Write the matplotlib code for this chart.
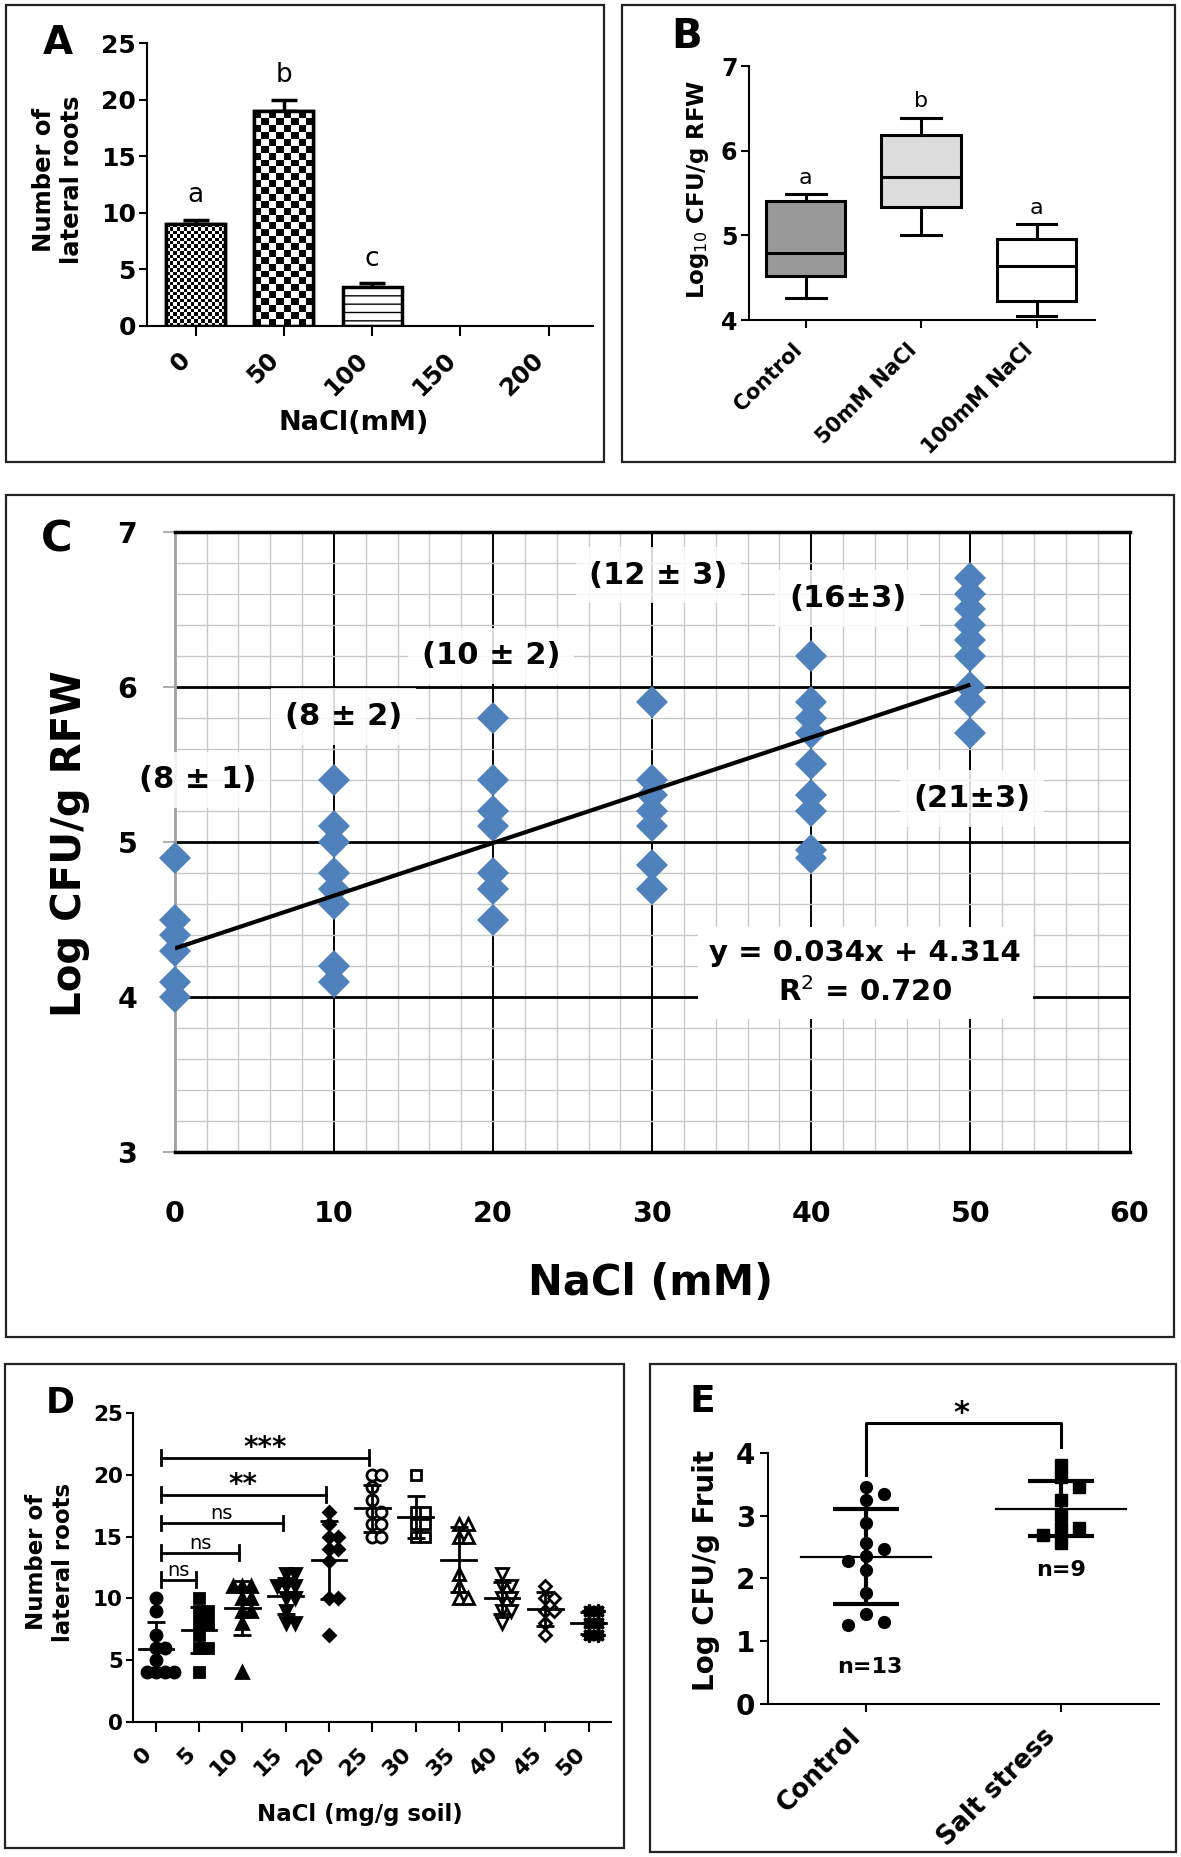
"""
Salt stress figure: lateral roots, root colonisation and fruit CFU (panels A-E).
Rebuilt with matplotlib, values read off the published figure.
"""
import numpy as np
import matplotlib
matplotlib.use("Agg")
import matplotlib.pyplot as plt
from matplotlib.patches import Rectangle

W, H, DPI = 1181, 1857, 100

# --- A: lateral roots vs NaCl (mM), mean + SEM -------------------------------
a_conc = ["0", "50", "100", "150", "200"]
a_roots = [9.0, 19.0, 3.4]          # only 0/50/100 mM have bars
a_err = [0.4, 1.0, 0.35]
a_letters = ["a", "b", "c"]

# --- B: log10 CFU/g RFW box plots --------------------------------------------
b_groups = ["Control", "50mM NaCl", "100mM NaCl"]
b_lo = [4.26, 5.00, 4.05]
b_q1 = [4.52, 5.34, 4.23]
b_med = [4.79, 5.69, 4.64]
b_q3 = [5.40, 6.19, 4.96]
b_hi = [5.49, 6.39, 5.13]
b_letters = ["a", "b", "a"]

# --- C: colonisation vs NaCl with linear fit ---------------------------------
c_nacl = [0, 10, 20, 30, 40, 50]
c_cfu = [
    [4.9, 4.5, 4.4, 4.3, 4.1, 4.0],
    [5.4, 5.1, 5.0, 4.8, 4.7, 4.6, 4.2, 4.1],
    [5.8, 5.4, 5.2, 5.1, 4.8, 4.7, 4.5],
    [5.9, 5.4, 5.3, 5.2, 5.1, 4.85, 4.7],
    [6.2, 5.9, 5.8, 5.7, 5.5, 5.3, 5.2, 4.95, 4.9],
    [6.7, 6.6, 6.5, 6.4, 6.3, 6.2, 6.0, 5.9, 5.7],
]
c_roots_txt = ["(8 ± 1)", "(8 ± 2)", "(10 ± 2)", "(12 ± 3)", "(16±3)", "(21±3)"]
c_slope, c_icpt, c_r2 = 0.034, 4.314, 0.720

# --- D: lateral roots vs NaCl (mg/g soil), scatter + mean/SD -----------------
d_nacl = ["0", "5", "10", "15", "20", "25", "30", "35", "40", "45", "50"]
d_roots = [
    [10, 9, 7, 6, 6, 5, 4, 4, 4, 4],
    [10, 9, 9, 8, 8, 7, 6, 6, 4],
    [11, 11, 11, 10, 10, 9, 9, 8, 4],
    [12, 12, 11, 11, 11, 10, 10, 9, 8, 8],
    [17, 16, 15, 15, 14, 14, 13, 10, 10, 7],
    [20, 20, 19, 18, 17, 17, 16, 16, 15, 15],
    [20, 17, 17, 16, 16, 15, 15],
    [16, 16, 15, 15, 12, 11, 10, 10],
    [12, 11, 11, 10, 10, 9, 9, 8],
    [11, 10, 10, 9, 9, 8, 7],
    [9, 9, 8, 8, 7, 7],
]
d_sig = [(1, "ns"), (2, "ns"), (3, "ns"), (4, "**"), (5, "***")]
d_sig_y = [11.5, 13.7, 16.1, 18.4, 21.4]

# --- E: fruit colonisation ---------------------------------------------------
e_groups = ["Control", "Salt stress"]
e_control = [3.46, 3.35, 3.25, 2.88, 2.56, 2.46, 2.36, 2.27, 2.14, 1.76, 1.44, 1.31, 1.25]
e_salt = [3.81, 3.61, 3.46, 3.25, 3.01, 2.80, 2.80, 2.69, 2.57]

plt.rcParams["font.family"] = ["DejaVu Sans"]
plt.rcParams["axes.linewidth"] = 1.5
plt.rcParams["hatch.linewidth"] = 1.0

fig = plt.figure(figsize=(W / DPI, H / DPI), dpi=DPI)


def frac_rect(l, t, r, b):
    return [l / W, 1 - b / H, (r - l) / W, (b - t) / H]


def ftext(x, y, s, **kw):
    kw.setdefault("ha", "center")
    kw.setdefault("va", "center")
    return fig.text(x / W, 1 - y / H, s, **kw)


def panel_box(l, t, r, b):
    fig.add_artist(Rectangle((l / W, 1 - b / H), (r - l) / W, (b - t) / H,
                             transform=fig.transFigure, fill=False, ec="#222222", lw=1.6))


def prism(ax):
    for s in ("top", "right"):
        ax.spines[s].set_visible(False)
    ax.tick_params(width=1.5, direction="out")


def swarm(ax, xc, vals, step_px, min_px):
    """deterministic beeswarm offsets (pixels -> data)"""
    t = ax.transData
    ppx = t.transform((1, 0))[0] - t.transform((0, 0))[0]
    ppy = t.transform((0, 1))[1] - t.transform((0, 0))[1]
    placed, xs = [], []
    for v in vals:
        k = 0
        while True:
            cand = ((k + 1) // 2) * (1 if k % 2 else -1) * step_px
            if all(np.hypot(cand - px, (v - pv) * ppy) >= min_px for px, pv in placed):
                break
            k += 1
        placed.append((cand, v))
        xs.append(xc + cand / ppx)
    return xs


# ============================== A ==============================
axA = fig.add_axes(frac_rect(147, 43.3, 593.4, 325.7))
prism(axA)
axA.set_xlim(-0.552, 4.509)
axA.set_ylim(0, 25)
xa = np.arange(len(a_roots))
axA.errorbar(xa, a_roots, yerr=[np.zeros(len(a_err)), a_err], fmt="none", ecolor="black",
             elinewidth=2.5, capsize=9.5, capthick=2.5, zorder=1)
bars = axA.bar(xa, a_roots, width=0.67, color="white", edgecolor="black", lw=2.5, zorder=2)
bars[2].set_hatch("--")
for idx, cell in ((0, 3.4), (1, 7.0)):
    p = bars[idx]
    x0, w, h = p.get_x(), p.get_width(), p.get_height()
    p0 = axA.transData.transform((x0, 0))
    p1 = axA.transData.transform((x0 + w, h))
    nx = max(1, int(round((p1[0] - p0[0]) / cell)))
    ny = max(1, int(round((p1[1] - p0[1]) / cell)))
    tex = np.indices((ny, nx)).sum(axis=0) % 2
    im = axA.imshow(tex, extent=(x0, x0 + w, 0, h), cmap="gray", vmin=0, vmax=1,
                    interpolation="nearest", aspect="auto", zorder=2.1)
    im.set_clip_path(p)
    axA.add_patch(Rectangle((x0, 0), w, h, fill=False, ec="black", lw=2.5, zorder=2.2))
axA.set_xlim(-0.552, 4.509)
axA.set_ylim(0, 25)
for i, (v, e, l) in enumerate(zip(a_roots, a_err, a_letters)):
    axA.text(i, v + e + 1.0, l, ha="center", va="bottom", fontsize=19)
axA.set_yticks(range(0, 26, 5), [str(v) for v in range(0, 26, 5)], fontsize=18, fontweight="bold")
axA.set_xticks(range(len(a_conc)), a_conc, rotation=45, ha="right", fontsize=17.5, fontweight="bold")
axA.tick_params(axis="y", length=6, pad=2)
axA.tick_params(axis="x", length=7, pad=9)
ftext(58, 180, "Number of\nlateral roots", rotation=90, fontsize=17.5, fontweight="bold", linespacing=1.2)
ftext(354, 423, "NaCl(mM)", fontsize=19.5, fontweight="bold")
ftext(58, 43, "A", fontsize=28, fontweight="bold")
panel_box(6, 5, 604, 462)

# ============================== B ==============================
axB = fig.add_axes(frac_rect(748.6, 66, 1095, 320))
prism(axB)
stats = [dict(med=m, q1=q1, q3=q3, whislo=lo, whishi=hi, label=g)
         for g, lo, q1, m, q3, hi in zip(b_groups, b_lo, b_q1, b_med, b_q3, b_hi)]
bp = axB.bxp(stats, positions=range(len(stats)), widths=0.69, patch_artist=True, showfliers=False,
             boxprops=dict(lw=2.2, edgecolor="black"), whiskerprops=dict(lw=2.2),
             capprops=dict(lw=2.2), medianprops=dict(color="black", lw=2.2))
for patch, fc in zip(bp["boxes"], ["#999999", "#dcdcdc", "white"]):
    patch.set_facecolor(fc)
for i, (hi, l) in enumerate(zip(b_hi, b_letters)):
    axB.text(i, hi + 0.12, l, ha="center", va="baseline", fontsize=16)
axB.set_xlim(-0.494, 2.506)
axB.set_ylim(4, 7)
axB.set_yticks(range(4, 8), [str(v) for v in range(4, 8)], fontsize=17, fontweight="bold")
axB.set_xticks(range(len(b_groups)), b_groups, rotation=45, ha="right", fontsize=15, fontweight="bold")
axB.tick_params(axis="y", length=6, pad=2)
axB.tick_params(axis="x", length=6, pad=8)
ftext(698, 189, r"Log$_{10}$ CFU/g RFW", rotation=90, fontsize=16.5, fontweight="bold")
ftext(687, 37, "B", fontsize=29, fontweight="bold")
panel_box(622, 5, 1175, 462)

# ============================== C ==============================
axC = fig.add_axes(frac_rect(174.8, 531.7, 1129.5, 1152.3))
axC.set_xlim(0, 60)
axC.set_ylim(3, 7)
axC.set_xticks(range(0, 61, 10))
axC.set_yticks(range(3, 8))
axC.set_xticks(np.arange(0, 61, 2), minor=True)
axC.set_yticks(np.arange(3, 7.01, 0.2), minor=True)
axC.set_axisbelow(True)
axC.grid(which="minor", color="#c8c8c8", lw=1.0)
axC.grid(which="major", axis="x", color="black", lw=1.4)
axC.grid(which="major", axis="y", color="black", lw=2.0)
axC.spines["left"].set_color("#a0a0a0")
axC.spines["left"].set_linewidth(2.0)
axC.spines["left"].set_zorder(1.5)
for s in ("top", "bottom"):
    axC.spines[s].set_linewidth(2.5)
axC.spines["right"].set_linewidth(1.4)
axC.tick_params(which="minor", length=0)
axC.tick_params(axis="y", which="major", length=9, color="#a0a0a0", width=1.2, pad=18, labelsize=20.5)
axC.tick_params(axis="x", which="major", length=0, pad=34, labelsize=20.5)
for lab in axC.get_xticklabels() + axC.get_yticklabels():
    lab.set_fontweight("bold")

for x, vals in zip(c_nacl, c_cfu):
    axC.plot([x] * len(vals), vals, ls="none", marker="D", ms=16, color="#4f81bd", mew=0,
             zorder=3, clip_on=False)
xs = np.array([c_nacl[0], c_nacl[-1]])
axC.plot(xs, c_icpt + c_slope * xs, color="black", lw=3, zorder=4, solid_capstyle="butt")

c_lab_xy = [(1.45, 5.40), (10.6, 5.81), (19.9, 6.20), (30.4, 6.72), (42.3, 6.57), (50.1, 5.28)]
for (tx, ty), s in zip(c_lab_xy, c_roots_txt):
    axC.text(tx, ty, s, ha="center", va="center", fontsize=22, fontweight="bold", zorder=2.5,
             bbox=dict(boxstyle="square,pad=0.45", fc="white", ec="none", alpha=0.85))
axC.text(43.4, 4.155, f"y = {c_slope:.3f}x + {c_icpt:.3f}\nR$^{{2}}$ = {c_r2:.3f}",
         ha="center", va="center", fontsize=21, fontweight="bold", linespacing=1.45, zorder=2.5,
         bbox=dict(boxstyle="square,pad=0.4", fc="white", ec="none"))
ftext(70, 844, "Log CFU/g RFW", rotation=90, fontsize=29, fontweight="bold")
ftext(651, 1283, "NaCl (mM)", fontsize=30, fontweight="bold")
ftext(57, 540, "C", fontsize=31, fontweight="bold")
panel_box(6, 495, 1174, 1337)

# ============================== D ==============================
axD = fig.add_axes(frac_rect(132.6, 1413.3, 610.7, 1721.7))
prism(axD)
axD.set_xlim(-0.538, 10.51)
axD.set_ylim(0, 25)
d_marker = ["o", "s", "^", "v", "D", "o", "s", "^", "v", "D", (8, 1, 0)]
d_filled = [True, True, True, True, True, False, False, False, False, False, True]
d_ms = [8, 7.5, 8.5, 8.5, 6, 8, 7.5, 8.5, 8.5, 6, 10]
for i, vals in enumerate(d_roots):
    vals = sorted(vals, reverse=True)
    xs_d = swarm(axD, i, vals, 9, 9)
    axD.plot(xs_d, vals, ls="none", marker=d_marker[i], ms=d_ms[i], mew=2,
             mfc="black" if d_filled[i] else "white", mec="black", zorder=3)
    m, sd = np.mean(vals), np.std(vals, ddof=1)
    axD.plot([i - 0.4, i + 0.4], [m, m], color="black", lw=2, zorder=4)
    axD.errorbar(i, m, yerr=sd, fmt="none", ecolor="black", elinewidth=2, capsize=6.5,
                 capthick=2, zorder=4)
for (j, lab), y in zip(d_sig, d_sig_y):
    x0, x1 = 0.11, j - 0.07
    axD.plot([x0, x1], [y, y], color="black", lw=2)
    axD.plot([x0, x0], [y - 0.6, y + 0.6], color="black", lw=2)
    axD.plot([x1, x1], [y - 0.6, y + 0.6], color="black", lw=2)
    if "*" in lab:
        axD.text((x0 + x1) / 2, y + 0.1, lab, ha="center", va="baseline", fontsize=20, fontweight="bold")
    else:
        axD.text((x0 + x1) / 2, y + 0.3, lab, ha="center", va="baseline", fontsize=14)
axD.set_yticks(range(0, 26, 5), [str(v) for v in range(0, 26, 5)], fontsize=15.5, fontweight="bold")
axD.set_xticks(range(len(d_nacl)), d_nacl, rotation=45, ha="right", fontsize=16, fontweight="bold")
axD.tick_params(axis="y", length=5, pad=2)
axD.tick_params(axis="x", length=7, pad=9)
ftext(50, 1562, "Number of\nlateral roots", rotation=90, fontsize=16.5, fontweight="bold", linespacing=1.25)
ftext(360, 1815, "NaCl (mg/g soil)", fontsize=16.5, fontweight="bold")
ftext(60, 1403, "D", fontsize=25, fontweight="bold")
panel_box(5, 1364, 623.5, 1848)

# ============================== E ==============================
axE = fig.add_axes(frac_rect(767.7, 1452.7, 1159.3, 1704))
prism(axE)
axE.set_xlim(-0.504, 1.504)
axE.set_ylim(0, 4)
for i, (vals, mk) in enumerate(((e_control, "o"), (e_salt, "s"))):
    vals = sorted(vals, reverse=True)
    xs_e = swarm(axE, i, vals, 18, 12)
    axE.plot(xs_e, vals, ls="none", marker=mk, ms=8.5, color="black", zorder=3)
    m, sd = np.mean(vals), np.std(vals, ddof=1)
    axE.plot([i - 0.335, i + 0.335], [m, m], color="black", lw=1.6, zorder=4)
    axE.errorbar(i, m, yerr=sd, fmt="none", ecolor="black", elinewidth=3, capsize=24,
                 capthick=3, zorder=4)
axE.text(0.02, 0.59, f"n={len(e_control)}", ha="center", va="center", fontsize=16, fontweight="bold")
axE.text(1.0, 2.13, f"n={len(e_salt)}", ha="center", va="center", fontsize=16, fontweight="bold")
axE.plot([0, 0, 1, 1], [3.65, 4.47, 4.47, 4.09], color="black", lw=2.2, clip_on=False)
axE.text(0.49, 4.62, "*", ha="center", va="center", fontsize=22, fontweight="bold")
axE.set_yticks(range(0, 5), [str(v) for v in range(0, 5)], fontsize=20, fontweight="bold")
axE.set_xticks(range(len(e_groups)), e_groups, rotation=45, ha="right", fontsize=18.5, fontweight="bold")
axE.tick_params(axis="y", length=6, pad=3)
axE.tick_params(axis="x", length=6, pad=8)
ftext(705.6, 1570, "Log CFU/g Fruit", rotation=90, fontsize=20, fontweight="bold")
ftext(702, 1402, "E", fontsize=27, fontweight="bold")
panel_box(649.7, 1364, 1175.5, 1851.7)

fig.savefig("out.png", dpi=DPI)
